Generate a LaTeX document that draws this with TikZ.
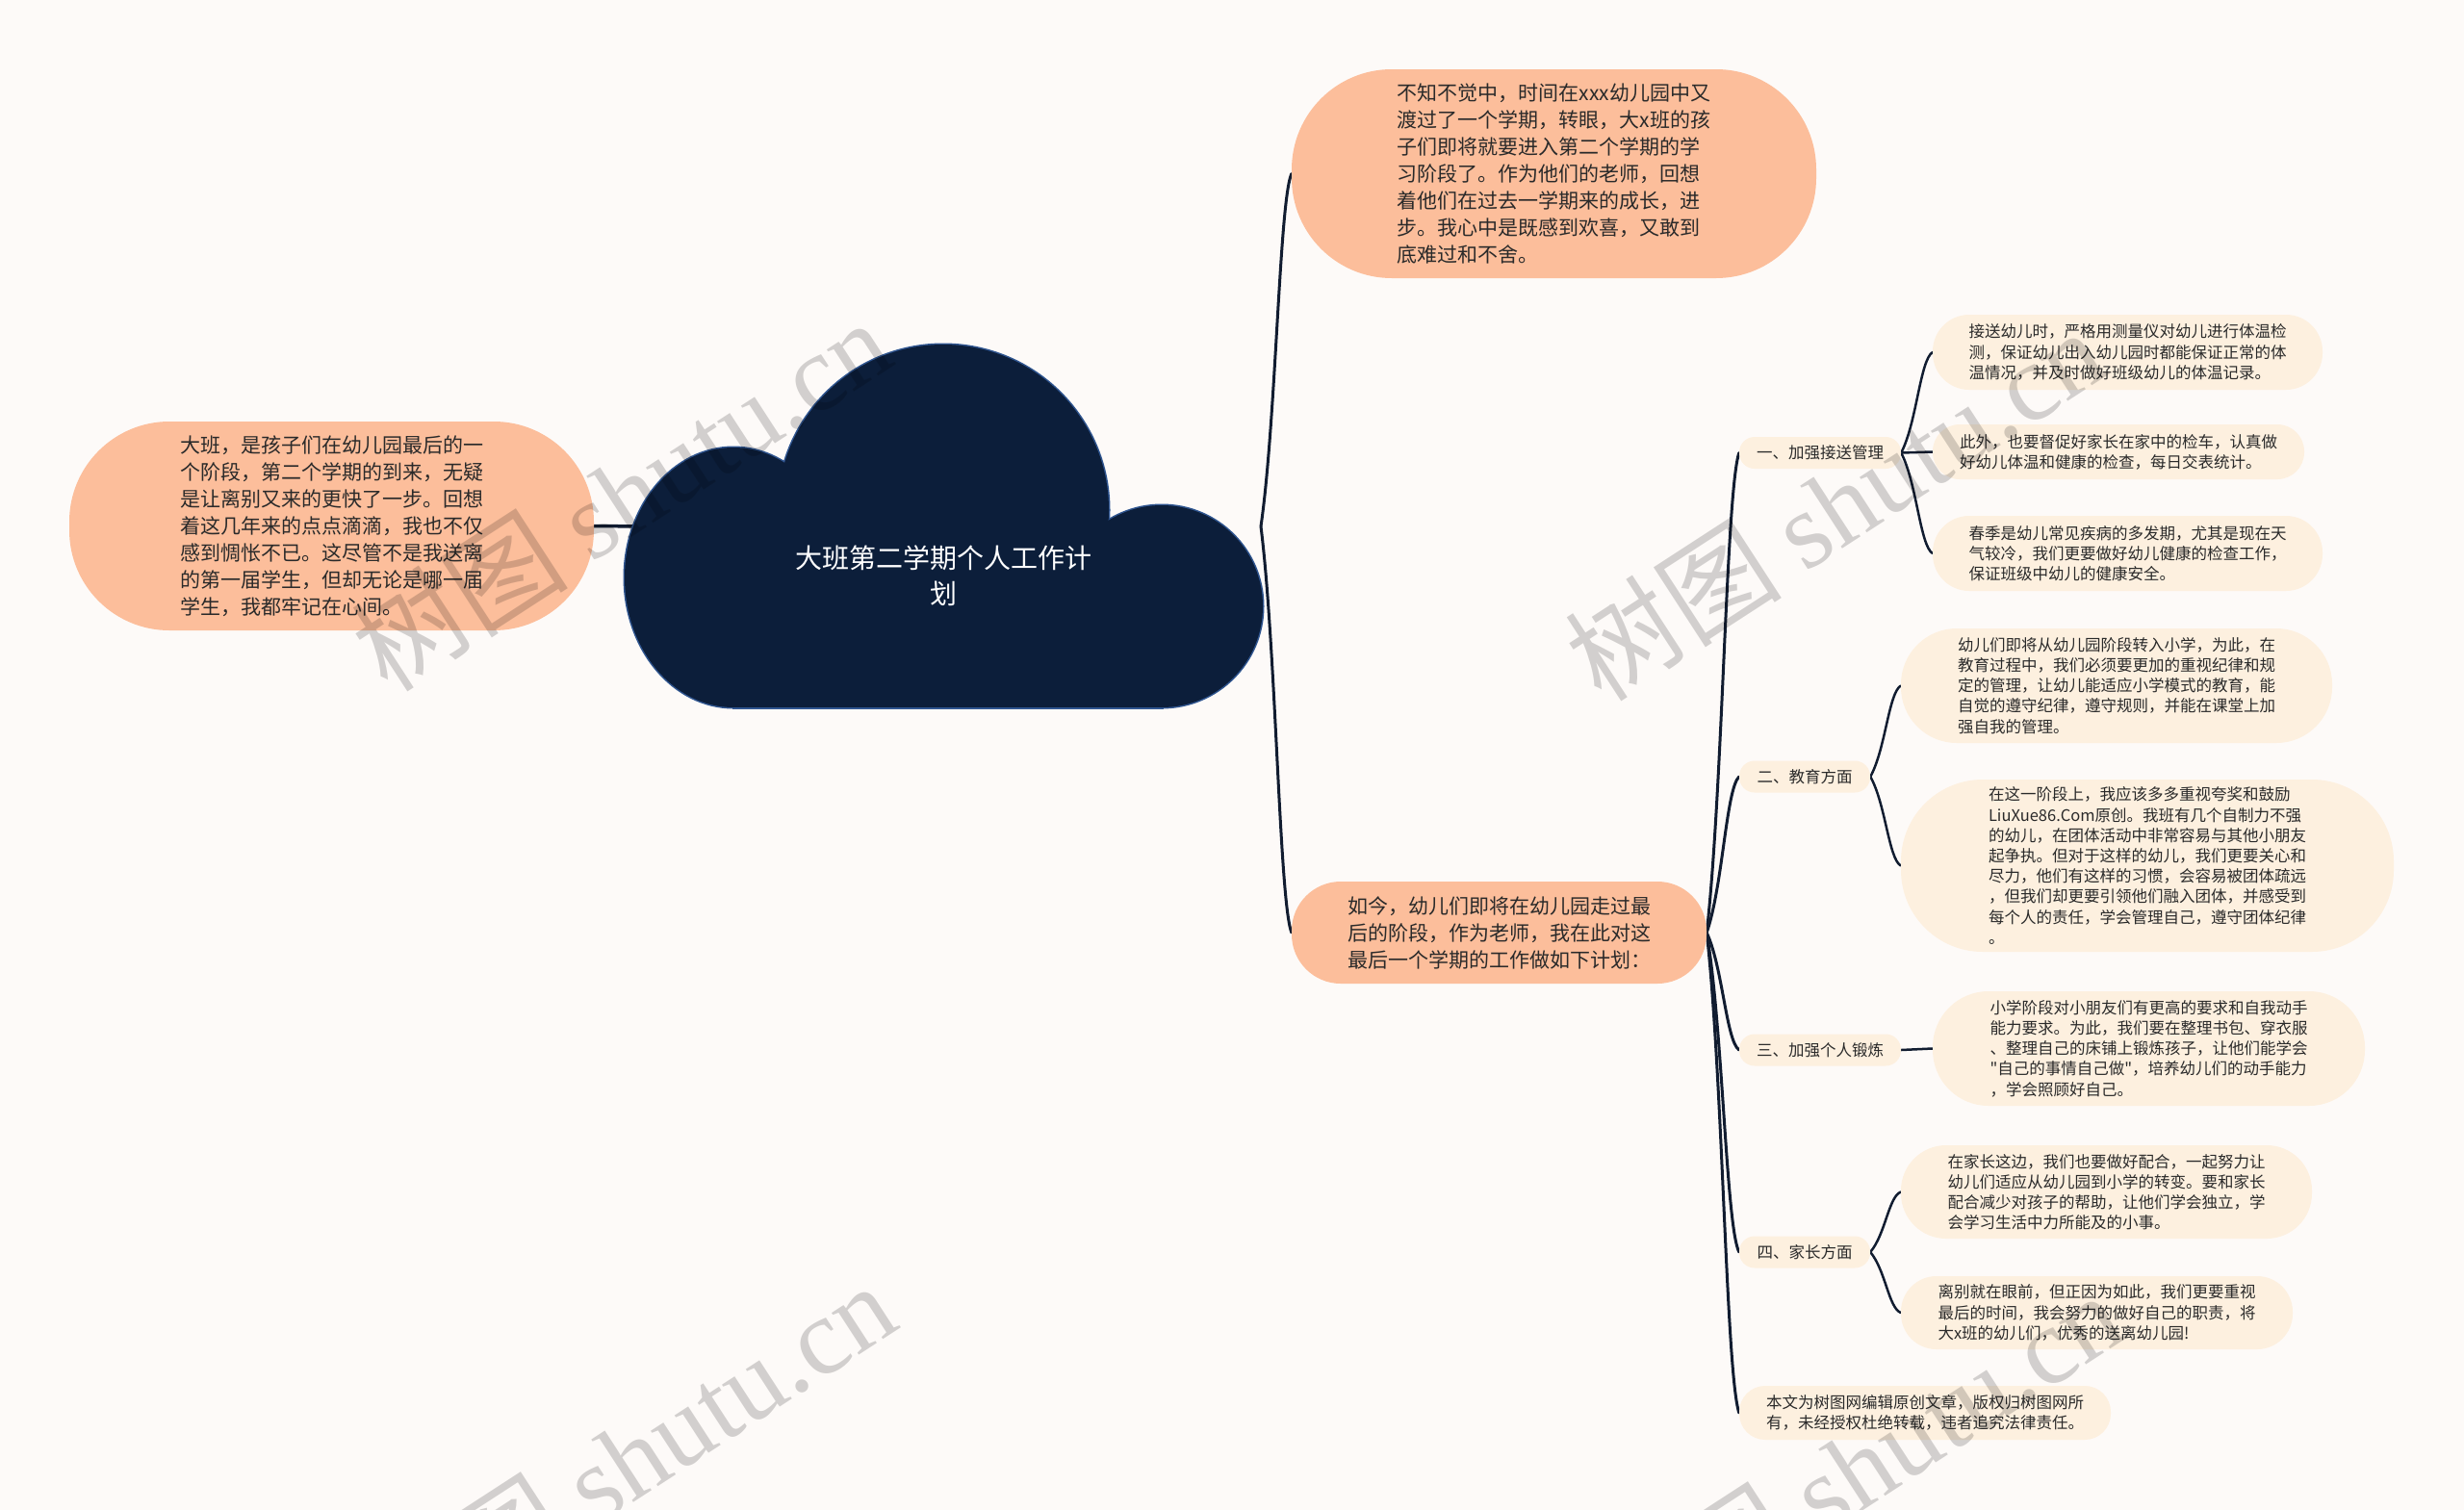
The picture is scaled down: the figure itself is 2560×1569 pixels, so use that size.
\documentclass[tikz,border=0pt]{standalone}
\usepackage{fontspec}
\setmainfont{Noto Sans CJK SC}[Ligatures=TeXOff]
\newfontfamily\wmfont{Liberation Serif}
\usetikzlibrary{calc}
\definecolor{bgc}{HTML}{FDFAF8}
\definecolor{peach}{HTML}{FCBE9B}
\definecolor{beige}{HTML}{FDF0DF}
\definecolor{cloudc}{HTML}{0C1E3A}
\definecolor{cloudline}{HTML}{2F5590}
\definecolor{linec}{HTML}{111C30}
\definecolor{txt}{HTML}{2A2A2A}
\pgfdeclarelayer{bglayer}
\pgfdeclarelayer{linelayer}
\pgfsetlayers{bglayer,linelayer,main}
\tikzset{
  bigbox/.style={fill=peach, inner sep=0pt, align=left, text=txt, font=\fontsize{21}{28}\selectfont},
  smallbox/.style={fill=beige, inner sep=0pt, align=left, text=txt, font=\fontsize{16.5}{21.2}\selectfont},
  conn/.style={draw=linec, line width=3pt, line cap=round},
  conntwo/.style={draw=linec, line width=2.5pt, line cap=round},
  wmark/.style={rotate=33, text=black, opacity=0.17, font=\fontsize{113}{113}\selectfont},
  cloudedge/.style={draw=cloudline, line width=3pt},
}
\newcommand{\brk}[3][conn]{%
  \draw[#1] let \p1=(#2), \p2=(#3) in (\p1) .. controls ({\x1+0.5*(\x2-\x1)}, {\y1+0.3*(\y2-\y1)}) and ({\x1+0.6*(\x2-\x1)}, {\y2-0.08*(\y2-\y1)}) .. (\p2);}
\begin{document}
\begin{tikzpicture}[x=1pt,y=-1pt]
\useasboundingbox (0,0) rectangle (2560,1569);
\begin{pgfonlayer}{bglayer}
\fill[bgc] (0,0) rectangle (2560,1569);
\end{pgfonlayer}

% cloud
\draw[cloudedge] (762,600) ellipse [x radius=113, y radius=135];
\draw[cloudedge] (980,530) circle [radius=172];
\draw[cloudedge] (1207,630) circle [radius=105];
\draw[cloudedge] (762,560) rectangle (1207,735);
\fill[cloudc] (762,600) ellipse [x radius=113, y radius=135];
\fill[cloudc] (980,530) circle [radius=172];
\fill[cloudc] (1207,630) circle [radius=105];
\fill[cloudc] (762,560) rectangle (1207,735);
\node[text=white, align=center, font=\fontsize{28}{37.5}\selectfont] (cloud) at (980,598) {大班第二学期个人工作计\\划};
\coordinate (cloudL) at (668,547);
\coordinate (root) at (1310,547);

% level 1
\node[bigbox, minimum width=545pt, minimum height=217pt, rounded corners=104pt] (p1) at (1614.5,180.5) {不知不觉中，时间在xxx幼儿园中又\\渡过了一个学期，转眼，大x班的孩\\子们即将就要进入第二个学期的学\\习阶段了。作为他们的老师，回想\\着他们在过去一学期来的成长，进\\步。我心中是既感到欢喜，又敢到\\底难过和不舍。};
\node[bigbox, minimum width=545pt, minimum height=217pt, rounded corners=104pt] (p0) at (344.5,546.5) {大班，是孩子们在幼儿园最后的一\\个阶段，第二个学期的到来，无疑\\是让离别又来的更快了一步。回想\\着这几年来的点点滴滴，我也不仅\\感到惆怅不已。这尽管不是我送离\\的第一届学生，但却无论是哪一届\\学生，我都牢记在心间。};
\node[bigbox, minimum width=431pt, minimum height=106pt, rounded corners=51pt] (p2) at (1557.5,969) {如今，幼儿们即将在幼儿园走过最\\后的阶段，作为老师，我在此对这\\最后一个学期的工作做如下计划：};

% level 2
\node[smallbox, minimum width=168pt, minimum height=33pt, rounded corners=16pt] (l1) at (1891,470.5) {一、加强接送管理};
\node[smallbox, minimum width=136pt, minimum height=33pt, rounded corners=16pt] (l2) at (1875,807) {二、教育方面};
\node[smallbox, minimum width=168pt, minimum height=33pt, rounded corners=16pt] (l3) at (1891,1091) {三、加强个人锻炼};
\node[smallbox, minimum width=136pt, minimum height=33pt, rounded corners=16pt] (l4) at (1875,1301) {四、家长方面};
\node[smallbox, minimum width=386pt, minimum height=56pt, rounded corners=27pt] (l5) at (2000,1468) {本文为树图网编辑原创文章，版权归树图网所\\有，未经授权杜绝转载，违者追究法律责任。};

% level 3
\node[smallbox, minimum width=405pt, minimum height=78pt, rounded corners=38pt] (a1) at (2210.5,366) {接送幼儿时，严格用测量仪对幼儿进行体温检\\测，保证幼儿出入幼儿园时都能保证正常的体\\温情况，并及时做好班级幼儿的体温记录。};
\node[smallbox, minimum width=386pt, minimum height=57pt, rounded corners=28pt] (a2) at (2201,469.5) {此外，也要督促好家长在家中的检车，认真做\\好幼儿体温和健康的检查，每日交表统计。};
\node[smallbox, minimum width=405pt, minimum height=78pt, rounded corners=38pt] (a3) at (2210.5,575) {春季是幼儿常见疾病的多发期，尤其是现在天\\气较冷，我们更要做好幼儿健康的检查工作，\\保证班级中幼儿的健康安全。};
\node[smallbox, minimum width=448pt, minimum height=119pt, rounded corners=58pt] (b1) at (2199,712.5) {幼儿们即将从幼儿园阶段转入小学，为此，在\\教育过程中，我们必须要更加的重视纪律和规\\定的管理，让幼儿能适应小学模式的教育，能\\自觉的遵守纪律，遵守规则，并能在课堂上加\\强自我的管理。};
\node[smallbox, minimum width=512pt, minimum height=179pt, rounded corners=85pt] (b2) at (2231,899.5) {在这一阶段上，我应该多多重视夸奖和鼓励\\LiuXue86.Com原创。我班有几个自制力不强\\的幼儿，在团体活动中非常容易与其他小朋友\\起争执。但对于这样的幼儿，我们更要关心和\\尽力，他们有这样的习惯，会容易被团体疏远\\，但我们却更要引领他们融入团体，并感受到\\每个人的责任，学会管理自己，遵守团体纪律\\。};
\node[smallbox, minimum width=449pt, minimum height=119pt, rounded corners=58pt] (c1) at (2232.5,1089.5) {小学阶段对小朋友们有更高的要求和自我动手\\能力要求。为此，我们要在整理书包、穿衣服\\、整理自己的床铺上锻炼孩子，让他们能学会\\"自己的事情自己做"，培养幼儿们的动手能力\\，学会照顾好自己。};
\node[smallbox, minimum width=427pt, minimum height=97pt, rounded corners=47pt] (d1) at (2188.5,1238.5) {在家长这边，我们也要做好配合，一起努力让\\幼儿们适应从幼儿园到小学的转变。要和家长\\配合减少对孩子的帮助，让他们学会独立，学\\会学习生活中力所能及的小事。};
\node[smallbox, minimum width=407pt, minimum height=76pt, rounded corners=37pt] (d2) at (2178.5,1364) {离别就在眼前，但正因为如此，我们更要重视\\最后的时间，我会努力的做好自己的职责，将\\大x班的幼儿们，优秀的送离幼儿园!};

% connectors
\begin{pgfonlayer}{linelayer}
\draw[conn, line width=3.5pt] (p0.east) -- (cloudL);
\brk{root}{p1.west}
\brk{root}{p2.west}
\brk{p2.east}{l1.west}
\brk{p2.east}{l2.west}
\brk{p2.east}{l3.west}
\brk{p2.east}{l4.west}
\brk{p2.east}{l5.west}
\brk[conntwo]{l1.east}{a1.west}
\draw[conntwo] (l1.east) -- (a2.west);
\brk[conntwo]{l1.east}{a3.west}
\brk[conntwo]{l2.east}{b1.west}
\brk[conntwo]{l2.east}{b2.west}
\draw[conntwo] (l3.east) -- (c1.west);
\brk[conntwo]{l4.east}{d1.west}
\brk[conntwo]{l4.east}{d2.west}
\end{pgfonlayer}

% watermarks
\node[wmark] (wm1) at (645,514) {树图 {\wmfont shutu.cn}};
\node[wmark] (wm2) at (1906,524) {树图 {\wmfont shutu.cn}};
\node[wmark] (wm3) at (650,1515) {树图 {\wmfont shutu.cn}};
\node[wmark] (wm4) at (1925,1525) {树图 {\wmfont shutu.cn}};
\end{tikzpicture}
\end{document}
